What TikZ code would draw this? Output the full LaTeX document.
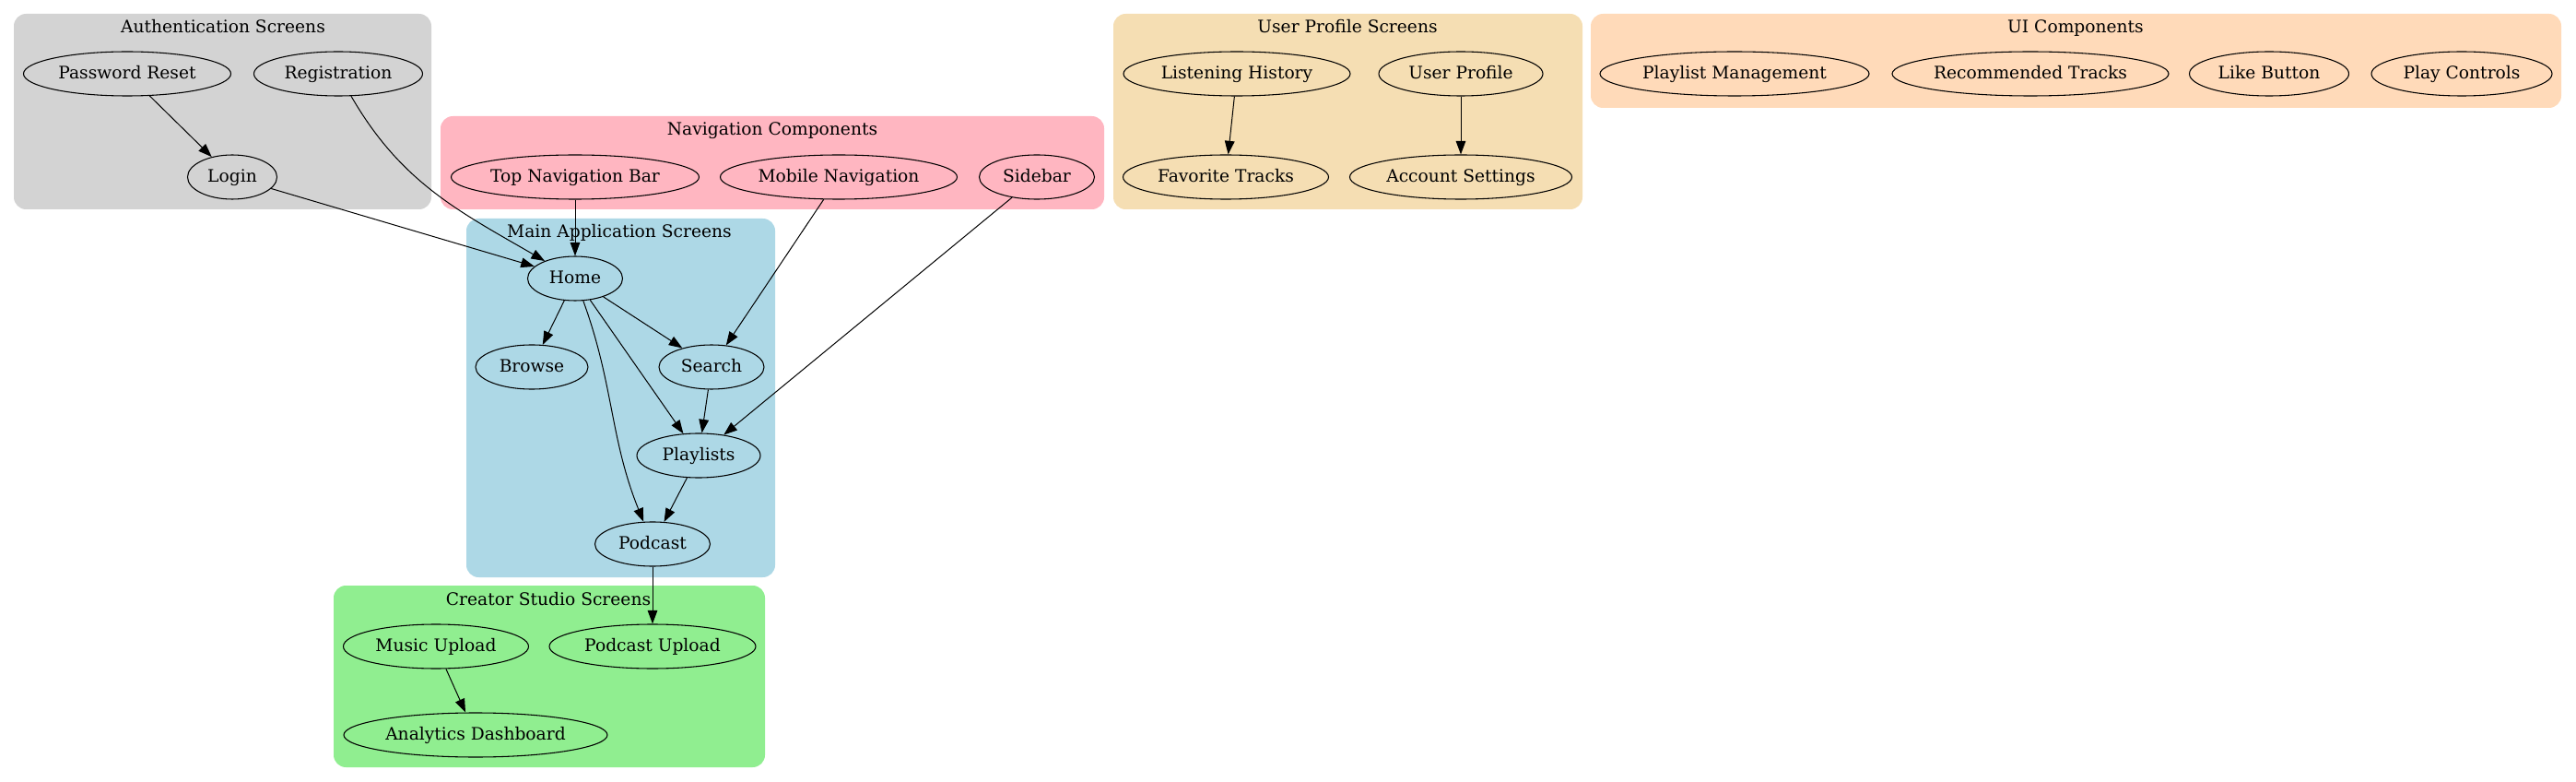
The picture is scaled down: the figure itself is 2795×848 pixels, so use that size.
\documentclass[tikz,border=0pt]{standalone}
\usepackage{fontspec}
\setmainfont{DejaVu Serif}
\usetikzlibrary{arrows.meta,shapes.geometric}
\definecolor{authgray}{HTML}{D3D3D3}
\definecolor{navpink}{HTML}{FFB6C1}
\definecolor{mainblue}{HTML}{ADD8E6}
\definecolor{studiogreen}{HTML}{90EE90}
\definecolor{profilewheat}{HTML}{F5DEB3}
\definecolor{uipeach}{HTML}{FFDAB9}

\begin{document}
\begin{tikzpicture}[x=0.75pt,y=0.75pt,
  scr/.style={draw=black,ellipse,line width=0.8pt,minimum height=36pt,text height=11pt,text depth=3pt,font=\fontsize{14pt}{16pt}\selectfont},
  ttl/.style={anchor=base,font=\fontsize{14pt}{16pt}\selectfont},
  grp/.style={rounded corners=10pt},
  link/.style={-{Triangle[length=11pt,width=8pt]},line width=0.75pt}]
\tikzstyle{every node}+=[inner sep=0pt]
\useasboundingbox (0,0) rectangle (2795,-848);
\fill [authgray,grp] (15,-15) rectangle (468,-227);
\fill [navpink,grp] (478,-126) rectangle (1198,-227);
\fill [mainblue,grp] (506,-237) rectangle (841,-626);
\fill [studiogreen,grp] (362,-635) rectangle (830,-832);
\fill [profilewheat,grp] (1208,-15) rectangle (1717,-227);
\fill [uipeach,grp] (1726,-15) rectangle (2779,-117);
\node [ttl] (authttl) at (242,-36) {Authentication Screens};
\node [ttl] (navttl) at (838,-147) {Navigation Components};
\node [ttl] (mainttl) at (672,-258) {Main Application Screens};
\node [ttl] (studiottl) at (595,-656) {Creator Studio Screens};
\node [ttl] (profilettl) at (1462,-36) {User Profile Screens};
\node [ttl] (uittl) at (2252,-36) {UI Components};
\node [scr,minimum width=168.75pt] (pwreset) at (138,-80) {Password Reset};
\node [scr,minimum width=137.25pt] (register) at (367,-80) {Registration};
\node [scr,minimum width=72.75pt] (login) at (252,-192) {Login};
\node [scr,minimum width=201.75pt] (topnav) at (624,-192) {Top Navigation Bar};
\node [scr,minimum width=192.75pt] (mobilenav) at (910,-192) {Mobile Navigation};
\node [scr,minimum width=93.75pt] (sidebar) at (1125,-192) {Sidebar};
\node [scr,minimum width=77.25pt] (home) at (624,-302) {Home};
\node [scr,minimum width=91.5pt] (browse) at (577,-398) {Browse};
\node [scr,minimum width=85.5pt] (search) at (772,-398) {Search};
\node [scr,minimum width=100.5pt] (playlists) at (758,-494) {Playlists};
\node [scr,minimum width=93.75pt] (podcast) at (708,-590) {Podcast};
\node [scr,minimum width=150.75pt] (musicup) at (473,-701) {Music Upload};
\node [scr,minimum width=168pt] (podcastup) at (708,-701) {Podcast Upload};
\node [scr,minimum width=214.5pt] (analytics) at (516,-797) {Analytics Dashboard};
\node [scr,minimum width=184.5pt] (history) at (1342,-80) {Listening History};
\node [scr,minimum width=133.5pt] (profile) at (1585,-80) {User Profile};
\node [scr,minimum width=167.25pt] (favorites) at (1330,-192) {Favorite Tracks};
\node [scr,minimum width=180.75pt] (account) at (1585,-192) {Account Settings};
\node [scr,minimum width=219pt] (playlistmgmt) at (1882,-80) {Playlist Management};
\node [scr,minimum width=225pt] (recommended) at (2203,-80) {Recommended Tracks};
\node [scr,minimum width=129.75pt] (likebtn) at (2462,-80) {Like Button};
\node [scr,minimum width=147pt] (playctrl) at (2671,-80) {Play Controls};
\draw [link] (pwreset) -- (login);
\draw [link] (register) to[out=-60,in=150] (home);
\draw [link] (login) -- (home);
\draw [link] (topnav) -- (home);
\draw [link] (mobilenav) -- (search);
\draw [link] (sidebar) -- (playlists);
\draw [link] (home) -- (browse);
\draw [link] (home) -- (search);
\draw [link] (home) -- (playlists);
\draw [link] (home) to[out=-70,in=112] (podcast);
\draw [link] (search) -- (playlists);
\draw [link] (playlists) -- (podcast);
\draw [link] (podcast) -- (podcastup);
\draw [link] (musicup) -- (analytics);
\draw [link] (history) -- (favorites);
\draw [link] (profile) -- (account);
\end{tikzpicture}
\end{document}
